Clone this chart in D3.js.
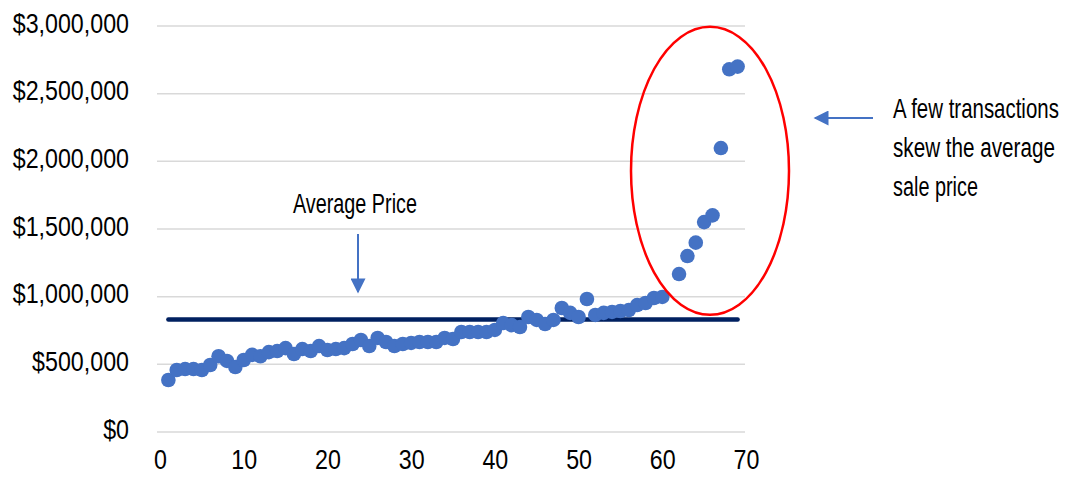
<!DOCTYPE html>
<html>
<head>
<meta charset="utf-8">
<script src="https://cdn.jsdelivr.net/npm/d3@7"></script>
<style>
  body { margin: 0; background: #fff; }
  text { font-family: "Liberation Sans", Arial, sans-serif; fill: #000; }
</style>
</head>
<body>
<script>
var w = 1075;
var h = 487;

// transaction rank (x) and sale price (y)
var ranks = [1, 2, 3, 4, 5, 6, 7, 8, 9, 10, 11, 12, 13, 14, 15, 16, 17, 18, 19, 20,
  21, 22, 23, 24, 25, 26, 27, 28, 29, 30, 31, 32, 33, 34, 35, 36, 37, 38, 39, 40,
  41, 42, 43, 44, 45, 46, 47, 48, 49, 50, 51, 52, 53, 54, 55, 56, 57, 58, 59, 60,
  62, 63, 64, 65, 66, 67, 68, 69];
var prices = [384000, 458000, 465000, 465000, 458000, 495000, 560000, 525000, 480000, 532000,
  570000, 560000, 590000, 598000, 620000, 576000, 613000, 598000, 635000, 606000,
  613000, 620000, 650000, 680000, 635000, 695000, 665000, 635000, 650000, 658000,
  665000, 665000, 665000, 695000, 687000, 739000, 739000, 739000, 739000, 754000,
  805000, 790000, 776000, 850000, 828000, 798000, 828000, 916000, 880000, 850000,
  983000, 865000, 880000, 887000, 894000, 901000, 938000, 953000, 990000, 998000,
  1167000, 1300000, 1399000, 1551000, 1601000, 2098000, 2680000, 2700000];
var avgPrice = 832000;
var xTicks = [0, 10, 20, 30, 40, 50, 60, 70];
var yTicks = [0, 500000, 1000000, 1500000, 2000000, 2500000, 3000000];
var note = ["A few transactions", "skew the average", "sale price"];
var noteWidths = [166, 162, 85];

var svg = d3.select("body").append("svg").attr("width", w).attr("height", h);

var x = d3.scaleLinear().domain([0, 70]).range([160, 746]);
var y = d3.scaleLinear().domain([0, 3000000]).range([432, 26]);

var defs = svg.append("defs");
defs.append("marker")
  .attr("id", "head")
  .attr("viewBox", "0 0 10 10")
  .attr("refX", 9).attr("refY", 5)
  .attr("markerWidth", 8).attr("markerHeight", 7.5)
  .attr("markerUnits", "strokeWidth")
  .attr("orient", "auto")
  .append("path").attr("d", "M0,0 L10,5 L0,10 z").attr("fill", "#4472C4");

// gridlines
svg.append("g")
  .selectAll("line")
  .data(yTicks)
  .enter()
  .append("line")
  .attr("x1", 157).attr("x2", 745)
  .attr("y1", function (d) { return y(d); })
  .attr("y2", function (d) { return y(d); })
  .attr("stroke", "#d9d9d9")
  .attr("stroke-width", 1.5);

var fmt = d3.format(",");

var yAxis = svg.append("g")
  .attr("transform", "translate(129,0)")
  .call(d3.axisLeft(y).tickValues(yTicks).tickSize(0).tickPadding(0).tickFormat(function (d) { return "$" + fmt(d); }));
yAxis.select(".domain").remove();
yAxis.selectAll("text")
  .attr("font-size", 28)
  .attr("dy", "0.22em")
  .attr("transform", "scale(0.83,1)");

var xAxis = svg.append("g")
  .attr("transform", "translate(0,432)")
  .call(d3.axisBottom(x).tickValues(xTicks).tickSize(0).tickPadding(27));
xAxis.select(".domain").remove();
xAxis.selectAll("text")
  .attr("font-size", 28)
  .attr("dy", "0.35em")
  .attr("transform", "scale(0.83,1)");
svg.selectAll(".tick text").attr("fill", "#000");

// average line
svg.append("line")
  .attr("x1", x(1)).attr("x2", x(69))
  .attr("y1", y(avgPrice)).attr("y2", y(avgPrice))
  .attr("stroke", "#002060")
  .attr("stroke-width", 4.5)
  .attr("stroke-linecap", "round");

// points
svg.append("g")
  .selectAll("circle")
  .data(prices)
  .enter()
  .append("circle")
  .attr("cx", function (d, i) { return x(ranks[i]); })
  .attr("cy", function (d) { return y(d); })
  .attr("r", 7.3)
  .attr("fill", "#4472C4");

// outlier ellipse
svg.append("ellipse")
  .attr("cx", x(65.7)).attr("cy", y(1930000))
  .attr("rx", 79).attr("ry", 144)
  .attr("fill", "none")
  .attr("stroke", "#ff0000")
  .attr("stroke-width", 2.5);

// squeeze a text to a given width, like the condensed font of the original
function squeeze(sel, x0, y0, width) {
  var len = sel.node().getComputedTextLength();
  sel.attr("transform", "translate(" + x0 + "," + y0 + ") scale(" + (width / len) + ",1)");
}

// annotations
var avgLabel = svg.append("text")
  .attr("font-size", 28)
  .text("Average Price");
squeeze(avgLabel, 293, 213, 124);

svg.append("line")
  .attr("x1", 358).attr("x2", 358)
  .attr("y1", 234).attr("y2", 292)
  .attr("stroke", "#4472C4").attr("stroke-width", 2)
  .attr("marker-end", "url(#head)");

svg.append("line")
  .attr("x1", 873).attr("x2", 815)
  .attr("y1", 118).attr("y2", 118)
  .attr("stroke", "#4472C4").attr("stroke-width", 2)
  .attr("marker-end", "url(#head)");

svg.append("g")
  .selectAll("text")
  .data(note)
  .enter()
  .append("text")
  .attr("font-size", 28)
  .text(function (d) { return d; })
  .each(function (d, i) {
    squeeze(d3.select(this), 893, 118 + i * 39, noteWidths[i]);
  });
</script>
</body>
</html>
